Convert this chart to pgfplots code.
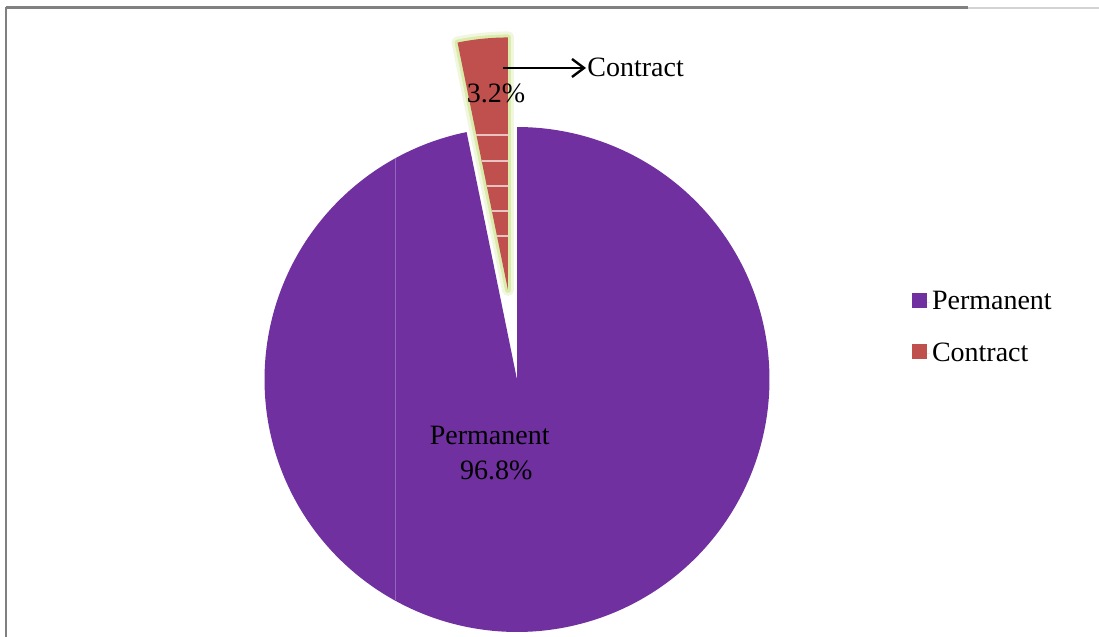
\documentclass[border=0pt]{standalone}
\usepackage{fontspec}
\setmainfont{Liberation Serif}
\usepackage{pgfplots}
\pgfplotsset{compat=1.18}
\usepackage{pgfplotstable}
\usetikzlibrary{arrows.meta}

\definecolor{perm}{HTML}{7030A0}
\definecolor{contr}{HTML}{C0504D}
\definecolor{glow}{HTML}{D5E8A0}
\definecolor{frame}{HTML}{808080}

% shares in percent
\pgfplotstableread{
label share
Permanent 96.8
Contract 3.2
}\shares

\pgfplotstablegetelem{1}{share}\of\shares
\let\shareContr\pgfplotsretval
% pie starts at the top and runs clockwise; contract slice is pulled out
\pgfmathsetmacro\cut{90+3.6*\shareContr}
\pgfmathsetmacro\mid{90+1.8*\shareContr}
\pgfmathsetmacro\ex{517+90*cos(\mid)}
\pgfmathsetmacro\ey{257.5+90*sin(\mid)}

\begin{document}%
\begin{tikzpicture}[font=\fontsize{14}{17}\selectfont]
\begin{axis}[
  width=549.5pt, height=318.5pt, scale only axis,
  xmin=0, xmax=1099, ymin=0, ymax=637,
  hide axis, clip=false,
  legend style={at={(axis cs:912,348)}, anchor=north west, draw=none, fill=none,
    font=\fontsize{14}{17}\selectfont, row sep=13pt, inner sep=0pt,
    nodes={inner sep=1pt}},
  legend cell align=left,
  legend image code/.code={\fill[#1] (0pt,-3pt) rectangle (7.5pt,4.5pt);
    \path (0pt,0pt) -- (8.8pt,0pt);},
]
% frame lines
\addplot[frame, line width=1.5pt, forget plot] coordinates {(6,629) (968,629)};
\addplot[frame!35, line width=0.7pt, forget plot] coordinates {(968,629) (1099,629)};
\addplot[frame, line width=1pt, forget plot] coordinates {(6,629.5) (6,0)};

% permanent slice
\addplot[fill=perm, draw=none, domain=\cut:450, samples=300, variable=\t]
  ({517+252.5*cos(\t)}, {257.5+252.5*sin(\t)}) -- (axis cs:517,257.5) -- cycle;
\addlegendentry{Permanent}
\addplot[perm!75!white, line width=0.4pt, forget plot] coordinates {(395,478.5) (395,36.5)};

% glow around the exploded slice
\addplot[draw=glow, line width=6pt, opacity=0.35, line join=round, domain=90:\cut, samples=20, variable=\t, forget plot]
  ({\ex+252.5*cos(\t)}, {\ey+252.5*sin(\t)}) -- (axis cs:\ex,\ey) -- cycle;
\addplot[draw=glow, line width=3pt, opacity=0.8, line join=round, domain=90:\cut, samples=20, variable=\t, forget plot]
  ({\ex+252.5*cos(\t)}, {\ey+252.5*sin(\t)}) -- (axis cs:\ex,\ey) -- cycle;
% contract slice
\addplot[fill=contr, draw=none, domain=90:\cut, samples=20, variable=\t]
  ({\ex+252.5*cos(\t)}, {\ey+252.5*sin(\t)}) -- (axis cs:\ex,\ey) -- cycle;
\addlegendentry{Contract}
% faint bands inside the slice
\addplot[contr!35!white, line width=0.6pt, forget plot] coordinates {(476.4,502) (508,502)};
\addplot[contr!35!white, line width=0.6pt, forget plot] coordinates {(481.7,476) (508,476)};
\addplot[contr!35!white, line width=0.6pt, forget plot] coordinates {(486.8,451) (508,451)};
\addplot[contr!35!white, line width=0.6pt, forget plot] coordinates {(491.9,426) (508,426)};
\addplot[contr!35!white, line width=0.6pt, forget plot] coordinates {(497.0,401) (508,401)};

% labels
\addplot[black, line width=1.2pt, -{Straight Barb[length=6pt,width=9pt,line width=1.2pt]}, forget plot]
  coordinates {(503,569) (586,569)};
\node[anchor=base west, inner sep=0pt] at (axis cs:587,560.3) {Contract};
\node[anchor=base, inner sep=0pt] at (axis cs:496,534.3) {3.2\%};
\node[anchor=base, inner sep=0pt] at (axis cs:489.7,192) {Permanent};
\node[anchor=base, inner sep=0pt] at (axis cs:496.3,157.7) {96.8\%};
\end{axis}
\pgfresetboundingbox
\path (0,0) rectangle (549.5pt,318.5pt);
\end{tikzpicture}%
\end{document}
